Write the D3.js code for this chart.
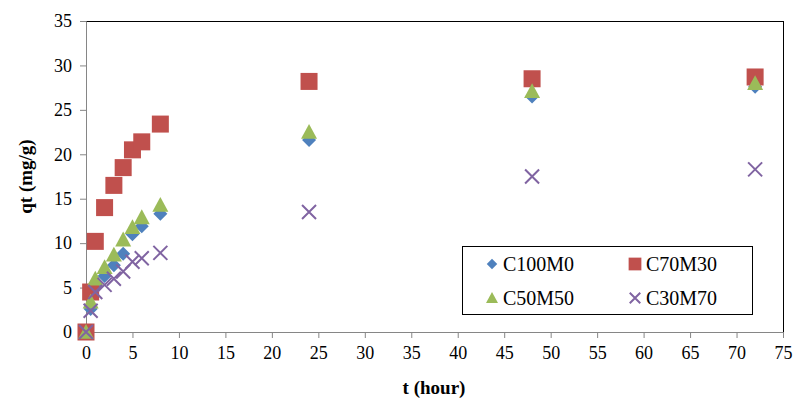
<!DOCTYPE html>
<html><head><meta charset="utf-8">
<script src="https://cdn.jsdelivr.net/npm/d3@7"></script>
<style>body{margin:0;background:#fff}svg{display:block}</style>
</head><body>
<svg id="c" width="796" height="401"></svg>
<script>
const times = [0, 0.5, 1, 2, 3, 4, 5, 6, 8, 24, 48, 72];
const C100M0 = [0, 2.6, 5.3, 6.3, 7.5, 8.8, 11.0, 11.9, 13.3, 21.6, 26.5, 27.6];
const C70M30 = [0, 4.5, 10.2, 14.0, 16.5, 18.5, 20.5, 21.4, 23.4, 28.2, 28.5, 28.7];
const C50M50 = [0, 3.4, 6.0, 7.3, 8.7, 10.4, 11.8, 12.9, 14.3, 22.5, 27.1, 28.0];
const C30M70 = [0, 2.4, 4.5, 5.3, 6.0, 6.8, 7.9, 8.3, 8.9, 13.5, 17.5, 18.3];
const xTicks = d3.range(0, 76, 5);
const yTicks = d3.range(0, 36, 5);
const seriesNames = ["C100M0", "C70M30", "C50M50", "C30M70"];
const seriesVals = [C100M0, C70M30, C50M50, C30M70];
const colors = ["#4F81BD", "#C0504D", "#9BBB59", "#8064A2"];
const shapes = ["diamond", "square", "triangle", "cross"];
const FONT = "Liberation Serif";

const svg = d3.select("#c");
const L = 86, R = 783, T = 21, B = 332;
const x = d3.scaleLinear().domain([0, 75]).range([L, R]);
const y = d3.scaleLinear().domain([0, 35]).range([B, T]);

svg.append("line").attr("x1", L).attr("x2", R).attr("y1", T + 0.5).attr("y2", T + 0.5).attr("stroke", "#000");
svg.append("line").attr("x1", R + 0.5).attr("x2", R + 0.5).attr("y1", T).attr("y2", B).attr("stroke", "#000");

const yAxis = svg.append("g").attr("transform", `translate(${L},0)`)
  .call(d3.axisLeft(y).tickValues(yTicks).tickSize(6).tickPadding(8).tickFormat(d3.format("d")));
const xAxis = svg.append("g").attr("transform", `translate(0,${B})`)
  .call(d3.axisBottom(x).tickValues(xTicks).tickSize(6).tickPadding(8).tickFormat(d3.format("d")));
[yAxis, xAxis].forEach(g => {
  g.attr("font-family", FONT).attr("font-size", 18);
  g.select(".domain").attr("stroke", "#868686");
  g.selectAll(".tick line").attr("stroke", "#868686");
  g.selectAll("text").attr("font-family", FONT).attr("font-size", 18).attr("fill", "#000");
});

function marker(g, shape, color, s) {
  if (shape === "diamond") {
    const h = 7 * s;
    g.append("path").attr("d", `M0,${-h}L${h},0L0,${h}L${-h},0Z`).attr("fill", color);
  } else if (shape === "square") {
    const h = 8.5 * s;
    g.append("rect").attr("x", -h).attr("y", -h).attr("width", 2 * h).attr("height", 2 * h).attr("fill", color);
  } else if (shape === "triangle") {
    const h = 8 * s;
    g.append("path").attr("d", `M0,${-h}L${h},${h * 0.85}L${-h},${h * 0.85}Z`).attr("fill", color);
  } else {
    const h = 7 * s;
    g.append("path").attr("d", `M${-h},${-h}L${h},${h}M${h},${-h}L${-h},${h}`).attr("stroke", color).attr("stroke-width", 2).attr("fill", "none");
  }
}

seriesVals.forEach((vals, i) => {
  const g = svg.append("g");
  times.forEach((t, j) => {
    const m = g.append("g").attr("transform", `translate(${x(t)},${y(vals[j])})`);
    marker(m, shapes[i], colors[i], 1);
  });
});

svg.append("text").attr("x", 434).attr("y", 394).attr("text-anchor", "middle").attr("font-family", FONT)
  .attr("font-weight", "bold").attr("font-size", 19).text("t (hour)");
svg.append("text").attr("transform", `translate(32,${(T + B) / 2}) rotate(-90)`).attr("text-anchor", "middle").attr("font-family", FONT)
  .attr("font-weight", "bold").attr("font-size", 19).text("qt (mg/g)");

const lg = svg.append("g");
lg.append("rect").attr("x", 462.5).attr("y", 246.5).attr("width", 290).attr("height", 68)
  .attr("fill", "#fff").attr("stroke", "#000");
const pos = [[492, 264], [635, 264], [492, 298], [635, 298]];
seriesNames.forEach((n, i) => {
  const m = lg.append("g").attr("transform", `translate(${pos[i][0]},${pos[i][1]})`);
  marker(m, shapes[i], colors[i], 0.75);
  lg.append("text").attr("x", pos[i][0] + 11).attr("y", pos[i][1] + 7).attr("font-family", FONT)
    .attr("font-size", 20).text(n);
});
</script>
</body></html>
